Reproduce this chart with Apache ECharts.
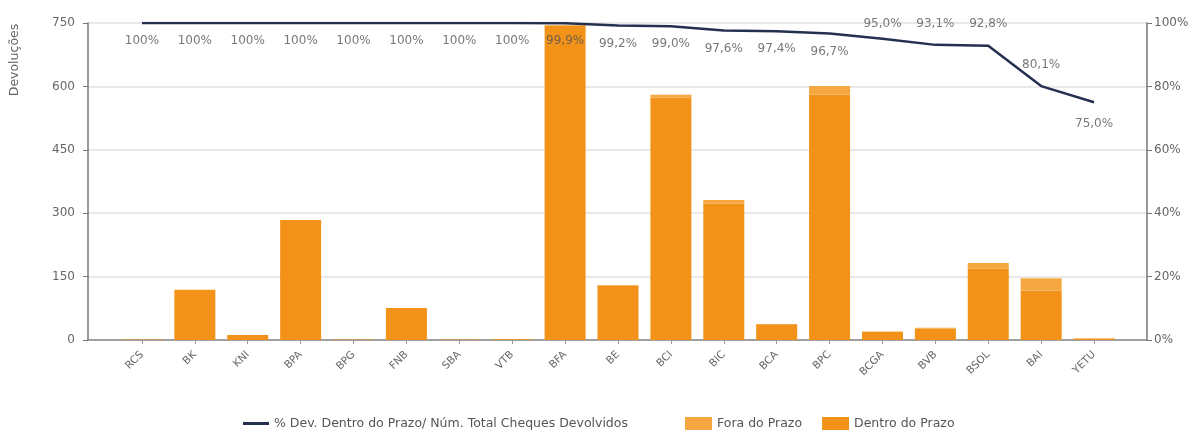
<!DOCTYPE html>
<html>
<head>
<meta charset="utf-8">
<script src="https://cdn.jsdelivr.net/npm/echarts@6/dist/echarts.min.js"></script>
<style>
html,body{margin:0;padding:0;background:#fff;}
#chart{width:1200px;height:430px;}
</style>
</head>
<body>
<div id="chart"></div>
<script>
// ---- data ----
const categories = ['RCS','BK','KNI','BPA','BPG','FNB','SBA','VTB','BFA','BE','BCI','BIC','BCA','BPC','BCGA','BVB','BSOL','BAI','YETU'];
const dentroDoPrazo = [1,119,12,284,1,76,1,2,744,129,574,323,37,581,19,27,169,117,3];
const foraDoPrazo   = [0,0,0,0,0,0,0,0,1,1,6,8,1,20,1,2,13,29,1];
const pctDentro     = [100,100,100,100,100,100,100,100,99.9,99.2,99.0,97.6,97.4,96.7,95.0,93.1,92.8,80.1,75.0];
const leftTicks  = {min:0, max:750, interval:150};
const rightTicks = {min:0, max:100, interval:20};
const lineName = '% Dev. Dentro do Prazo/ Núm. Total Cheques Devolvidos';
const yAxisName = 'Devoluções';

// ---- label placement (style) ----
const labelAbove = {14:9, 15:15, 16:16, 17:15};
const labelBelowDist = {18:16};
const fmtPct = v => v === 100 ? '100%' : v.toFixed(1).replace('.', ',') + '%';

const labelData = pctDentro.map((v, i) => {
  if (labelAbove[i] !== undefined) {
    return {value: v, label: {position: 'top', distance: labelAbove[i]}};
  }
  if (labelBelowDist[i] !== undefined) {
    return {value: v, label: {distance: labelBelowDist[i]}};
  }
  return {value: v};
});

const FONT = 'DejaVu Sans';
const TXT = '#666';

const chart = echarts.init(document.getElementById('chart'), null, {renderer: 'canvas'});
chart.setOption({
  animation: false,
  textStyle: {fontFamily: FONT},
  grid: [
    {left: 115.5, top: 23, width: 1005, height: 317},
    {left: 88, top: 23, width: 1059, height: 317}
  ],
  legend: [
    {
      left: 238, top: 412,
      itemWidth: 26, itemHeight: 3, icon: 'rect',
      textStyle: {fontFamily: FONT, fontSize: 12.5, color: '#555'},
      data: [lineName]
    },
    {
      left: 680, top: 412,
      itemGap: 20, itemWidth: 27, itemHeight: 13, icon: 'rect',
      textStyle: {fontFamily: FONT, fontSize: 12.5, color: '#555'},
      data: ['Fora do Prazo', 'Dentro do Prazo']
    }
  ],
  xAxis: [
    {
      type: 'category', gridIndex: 0, data: categories,
      axisLine: {show: false},
      axisTick: {show: true, alignWithLabel: true, length: 4, lineStyle: {color: '#999'}},
      axisLabel: {rotate: 45, fontSize: 10.5, color: TXT, margin: 13, fontFamily: FONT},
      splitLine: {show: false}
    },
    {
      type: 'value', gridIndex: 1, min: 0, max: 1,
      axisLine: {show: true, onZero: false, lineStyle: {color: '#888', width: 1.5}},
      axisTick: {show: false}, axisLabel: {show: false}, splitLine: {show: false}
    }
  ],
  yAxis: [
    {type: 'value', gridIndex: 0, min: leftTicks.min, max: leftTicks.max, interval: leftTicks.interval, show: false},
    {type: 'value', gridIndex: 0, min: rightTicks.min, max: rightTicks.max, interval: rightTicks.interval, show: false},
    {
      type: 'value', gridIndex: 1, position: 'left',
      min: leftTicks.min, max: leftTicks.max, interval: leftTicks.interval,
      axisLine: {show: true, lineStyle: {color: '#777', width: 1.5}},
      axisTick: {show: true, length: 5, lineStyle: {color: '#777'}},
      axisLabel: {fontSize: 12, color: TXT, margin: 13, fontFamily: FONT},
      splitLine: {show: true, lineStyle: {color: '#e2e2e2', width: 1.5}}
    },
    {
      type: 'value', gridIndex: 1, position: 'right',
      min: rightTicks.min, max: rightTicks.max, interval: rightTicks.interval,
      axisLine: {show: true, lineStyle: {color: '#777', width: 1.5}},
      axisTick: {show: true, length: 5, lineStyle: {color: '#777'}},
      axisLabel: {fontSize: 12, color: TXT, margin: 7, formatter: '{value}%', fontFamily: FONT},
      splitLine: {show: false}
    }
  ],
  graphic: [
    {
      type: 'text', x: 15, y: 60,
      rotation: Math.PI / 2,
      style: {text: yAxisName, fontSize: 12.5, fill: '#666', fontFamily: FONT,
              align: 'center', verticalAlign: 'middle'}
    }
  ],
  series: [
    {
      name: 'Dentro do Prazo', type: 'bar', stack: 'dev',
      xAxisIndex: 0, yAxisIndex: 0, barWidth: 41,
      itemStyle: {color: '#F29218'},
      data: dentroDoPrazo, z: 2
    },
    {
      name: 'Fora do Prazo', type: 'bar', stack: 'dev',
      xAxisIndex: 0, yAxisIndex: 0, barWidth: 41,
      itemStyle: {color: '#F5A841'},
      data: foraDoPrazo, z: 2
    },
    {
      name: lineName, type: 'line',
      xAxisIndex: 0, yAxisIndex: 1,
      symbol: 'none', showSymbol: false,
      lineStyle: {color: '#24304f', width: 2.5},
      itemStyle: {color: '#24304f'},
      data: pctDentro, z: 5
    },
    {
      name: 'labels', type: 'scatter',
      xAxisIndex: 0, yAxisIndex: 1,
      symbolSize: 0.1,
      itemStyle: {color: 'rgba(0,0,0,0)'},
      label: {
        show: true, position: 'bottom', distance: 12,
        fontSize: 12, color: '#555', fontFamily: FONT,
        formatter: p => fmtPct(p.value)
      },
      data: labelData, z: 6, silent: true
    }
  ]
});
</script>
</body>
</html>
